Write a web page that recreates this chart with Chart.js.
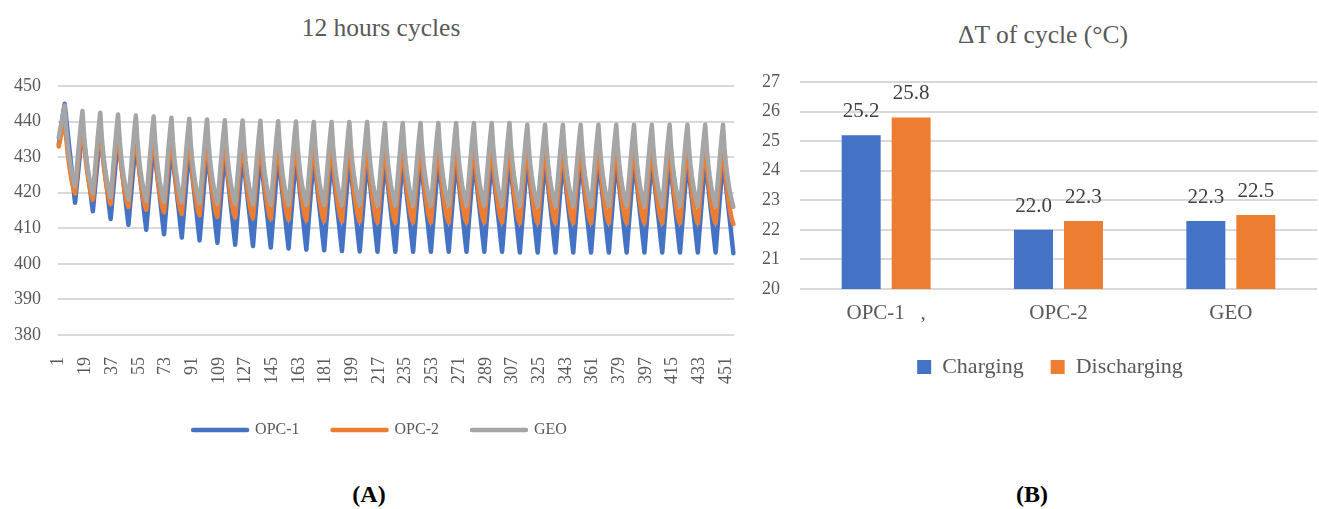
<!DOCTYPE html>
<html>
<head>
<meta charset="utf-8">
<script src="https://cdn.jsdelivr.net/npm/chart.js@4.4.1/dist/chart.umd.min.js"></script>
<style>
  html, body { margin: 0; padding: 0; background: #fff; }
  body { width: 1319px; height: 509px; position: relative; overflow: hidden; font-family: 'Liberation Serif', 'Times New Roman', serif; }
  canvas { position: absolute; top: 0; }
  #cycles { left: 0; }
  #deltaT { left: 740px; }
  .title { position: absolute; color: #595959; font-size: 25.5px; white-space: nowrap; transform: translate(-50%, -50%); }
  .panel { position: absolute; color: #000; font-size: 24px; font-weight: bold; white-space: nowrap; transform: translate(-50%, -50%); }
</style>
</head>
<body>
<div class="title" style="left:381px; top:28px;">12 hours cycles</div>
<div class="title" style="left:1043px; top:35px;">ΔT of cycle (°C)</div>
<canvas id="cycles" width="769" height="450"></canvas>
<canvas id="deltaT" width="579" height="400"></canvas>
<div class="panel" style="left:369px; top:494px;">(<span>A</span>)</div>
<div class="panel" style="left:1032px; top:494px;">(<span>B</span>)</div>
<script>
// ---- Panel A: temperature over repeated 12-hour cycles (hourly readings) ----
const hourIndex = Array.from({ length: 456 }, (_, i) => String(i + 1));
const hourTickStep = 18;
const tempTicks = { min: 380, max: 450, step: 10 };

const opc1 = [
  433.5, 436.5, 439.5, 442.5,
  445.0, 441.1, 436.9, 433.0, 429.2, 425.3, 421.1, 417.2, 421.4, 425.5, 429.7, 433.8,
  438.0, 434.8, 431.3, 428.0, 424.8, 421.5, 418.0, 414.8, 419.2, 423.6, 428.0, 432.4,
  436.8, 433.4, 429.8, 426.4, 423.0, 419.6, 416.0, 412.6, 417.2, 421.9, 426.5, 431.2,
  435.8, 432.3, 428.6, 425.1, 421.7, 418.2, 414.5, 411.0, 415.8, 420.5, 425.3, 430.0,
  434.8, 431.3, 427.5, 424.0, 420.4, 416.9, 413.1, 409.6, 414.5, 419.4, 424.2, 429.1,
  434.0, 430.4, 426.5, 422.9, 419.4, 415.8, 411.9, 408.3, 413.3, 418.3, 423.3, 428.3,
  433.3, 429.7, 425.8, 422.2, 418.5, 414.9, 411.0, 407.4, 412.5, 417.5, 422.6, 427.6,
  432.7, 429.0, 425.1, 421.5, 417.8, 414.2, 410.3, 406.6, 411.7, 416.8, 422.0, 427.1,
  432.2, 428.5, 424.6, 420.9, 417.2, 413.5, 409.6, 405.9, 411.1, 416.2, 421.4, 426.5,
  431.7, 428.0, 424.1, 420.4, 416.7, 413.0, 409.1, 405.4, 410.6, 415.8, 420.9, 426.1,
  431.3, 427.6, 423.7, 420.0, 416.3, 412.6, 408.7, 405.0, 410.2, 415.4, 420.6, 425.8,
  431.0, 427.3, 423.3, 419.6, 416.0, 412.3, 408.3, 404.6, 409.8, 415.0, 420.3, 425.5,
  430.7, 427.0, 423.0, 419.3, 415.7, 412.0, 408.0, 404.3, 409.5, 414.8, 420.0, 425.3,
  430.5, 426.8, 422.8, 419.1, 415.4, 411.7, 407.7, 404.0, 409.3, 414.5, 419.8, 425.0,
  430.3, 426.6, 422.6, 418.9, 415.2, 411.5, 407.5, 403.8, 409.1, 414.3, 419.6, 424.8,
  430.1, 426.4, 422.4, 418.7, 415.0, 411.3, 407.3, 403.6, 408.9, 414.2, 419.4, 424.7,
  430.0, 426.3, 422.3, 418.6, 414.9, 411.2, 407.2, 403.5, 408.8, 414.1, 419.3, 424.6,
  429.9, 426.2, 422.2, 418.5, 414.8, 411.1, 407.1, 403.4, 408.7, 414.0, 419.2, 424.5,
  429.8, 426.1, 422.1, 418.4, 414.8, 411.1, 407.1, 403.4, 408.7, 414.0, 419.2, 424.5,
  429.8, 426.1, 422.1, 418.4, 414.8, 411.1, 407.1, 403.4, 408.7, 414.0, 419.2, 424.5,
  429.8, 426.1, 422.1, 418.4, 414.8, 411.1, 407.1, 403.4, 408.7, 414.0, 419.2, 424.5,
  429.8, 426.1, 422.1, 418.4, 414.8, 411.1, 407.1, 403.4, 408.7, 414.0, 419.2, 424.5,
  429.8, 426.1, 422.1, 418.4, 414.8, 411.1, 407.1, 403.4, 408.7, 414.0, 419.2, 424.5,
  429.8, 426.1, 422.1, 418.4, 414.8, 411.1, 407.1, 403.4, 408.7, 414.0, 419.2, 424.5,
  429.8, 426.1, 422.1, 418.4, 414.8, 411.1, 407.1, 403.4, 408.7, 414.0, 419.2, 424.5,
  429.8, 426.1, 422.1, 418.4, 414.6, 410.9, 406.9, 403.2, 408.5, 413.8, 419.1, 424.4,
  429.7, 426.0, 422.0, 418.3, 414.6, 410.9, 406.9, 403.2, 408.5, 413.8, 419.1, 424.4,
  429.7, 426.0, 422.0, 418.3, 414.6, 410.9, 406.9, 403.2, 408.5, 413.8, 419.1, 424.4,
  429.7, 426.0, 422.0, 418.3, 414.6, 410.9, 406.9, 403.2, 408.5, 413.8, 419.1, 424.4,
  429.7, 426.0, 422.0, 418.3, 414.6, 410.9, 406.9, 403.2, 408.5, 413.8, 419.1, 424.4,
  429.7, 426.0, 422.0, 418.3, 414.6, 410.9, 406.9, 403.2, 408.5, 413.8, 419.1, 424.4,
  429.7, 426.0, 422.0, 418.3, 414.6, 410.9, 406.9, 403.2, 408.5, 413.8, 419.1, 424.4,
  429.7, 426.0, 422.0, 418.3, 414.6, 410.9, 406.9, 403.2, 408.5, 413.8, 419.1, 424.4,
  429.7, 426.0, 422.0, 418.3, 414.6, 410.9, 406.9, 403.2, 408.5, 413.8, 419.1, 424.4,
  429.7, 426.0, 422.0, 418.3, 414.6, 410.9, 406.9, 403.2, 408.5, 413.8, 419.1, 424.4,
  429.7, 426.0, 422.0, 418.3, 414.6, 410.9, 406.9, 403.2, 408.5, 413.8, 419.1, 424.4,
  429.7, 426.0, 422.0, 418.3, 414.6, 410.9, 406.9, 403.2, 408.5, 413.8, 419.1, 424.4,
  429.7, 426.0, 422.0, 418.2, 414.5, 410.7, 406.7, 403.0
];

const opc2 = [
  433.0, 435.0, 437.0, 439.0,
  441.0, 435.5, 431.2, 427.9, 425.1, 422.8, 420.9, 419.8, 423.8, 428.3, 432.3, 436.4,
  440.0, 434.3, 429.9, 426.4, 423.5, 421.1, 419.1, 418.0, 422.3, 427.0, 431.3, 435.5,
  439.4, 433.5, 429.0, 425.4, 422.5, 420.0, 417.9, 416.8, 421.2, 426.0, 430.4, 434.8,
  438.8, 432.9, 428.3, 424.7, 421.7, 419.2, 417.1, 416.0, 420.4, 425.3, 429.8, 434.2,
  438.2, 432.2, 427.6, 423.9, 421.0, 418.4, 416.4, 415.2, 419.7, 424.7, 429.2, 433.7,
  437.7, 431.7, 427.0, 423.3, 420.3, 417.7, 415.7, 414.5, 419.1, 424.1, 428.6, 433.2,
  437.3, 431.2, 426.6, 422.9, 419.8, 417.3, 415.2, 414.0, 418.6, 423.7, 428.3, 432.9,
  437.0, 430.9, 426.2, 422.5, 419.5, 416.9, 414.8, 413.6, 418.2, 423.3, 427.9, 432.5,
  436.7, 430.6, 425.9, 422.1, 419.1, 416.5, 414.4, 413.2, 417.8, 422.9, 427.6, 432.2,
  436.4, 430.3, 425.6, 421.9, 418.9, 416.3, 414.2, 413.0, 417.6, 422.7, 427.3, 431.9,
  436.1, 430.0, 425.4, 421.7, 418.6, 416.1, 414.0, 412.8, 417.4, 422.5, 427.1, 431.7,
  435.9, 429.8, 425.2, 421.5, 418.4, 415.9, 413.8, 412.6, 417.2, 422.3, 426.9, 431.5,
  435.7, 429.6, 425.0, 421.3, 418.2, 415.7, 413.6, 412.4, 417.0, 422.1, 426.7, 431.3,
  435.5, 429.4, 424.8, 421.1, 418.0, 415.5, 413.4, 412.2, 416.8, 421.9, 426.5, 431.1,
  435.3, 429.2, 424.6, 420.9, 417.8, 415.3, 413.2, 412.0, 416.6, 421.7, 426.4, 431.0,
  435.2, 429.1, 424.5, 420.8, 417.7, 415.2, 413.1, 411.9, 416.5, 421.6, 426.3, 430.9,
  435.1, 429.0, 424.4, 420.7, 417.6, 415.1, 413.0, 411.8, 416.4, 421.5, 426.2, 430.8,
  435.0, 428.9, 424.2, 420.5, 417.5, 414.9, 412.8, 411.6, 416.2, 421.3, 426.0, 430.6,
  434.8, 428.8, 424.1, 420.4, 417.4, 414.8, 412.8, 411.6, 416.2, 421.3, 426.0, 430.6,
  434.8, 428.8, 424.1, 420.4, 417.4, 414.8, 412.8, 411.6, 416.2, 421.3, 426.0, 430.6,
  434.8, 428.8, 424.1, 420.4, 417.4, 414.8, 412.8, 411.6, 416.2, 421.3, 426.0, 430.6,
  434.8, 428.8, 424.1, 420.4, 417.4, 414.8, 412.8, 411.6, 416.2, 421.3, 426.0, 430.6,
  434.8, 428.8, 424.1, 420.4, 417.4, 414.8, 412.8, 411.6, 416.2, 421.3, 426.0, 430.6,
  434.8, 428.8, 424.1, 420.4, 417.4, 414.8, 412.8, 411.6, 416.2, 421.3, 426.0, 430.6,
  434.8, 428.8, 424.1, 420.4, 417.4, 414.8, 412.8, 411.6, 416.2, 421.3, 426.0, 430.6,
  434.8, 428.7, 424.0, 420.3, 417.3, 414.7, 412.6, 411.4, 416.0, 421.1, 425.7, 430.3,
  434.5, 428.5, 423.9, 420.2, 417.2, 414.6, 412.6, 411.4, 416.0, 421.1, 425.7, 430.3,
  434.5, 428.5, 423.9, 420.2, 417.2, 414.6, 412.6, 411.4, 416.0, 421.1, 425.7, 430.3,
  434.5, 428.5, 423.9, 420.2, 417.2, 414.6, 412.6, 411.4, 416.0, 421.1, 425.7, 430.3,
  434.5, 428.5, 423.9, 420.2, 417.2, 414.6, 412.6, 411.4, 416.0, 421.1, 425.7, 430.3,
  434.5, 428.5, 423.9, 420.2, 417.2, 414.6, 412.6, 411.4, 416.0, 421.1, 425.7, 430.3,
  434.5, 428.5, 423.9, 420.2, 417.2, 414.6, 412.6, 411.4, 416.0, 421.1, 425.7, 430.3,
  434.5, 428.5, 423.9, 420.2, 417.2, 414.6, 412.6, 411.4, 416.0, 421.1, 425.7, 430.3,
  434.5, 428.5, 423.9, 420.2, 417.2, 414.6, 412.6, 411.4, 416.0, 421.1, 425.7, 430.3,
  434.5, 428.5, 423.9, 420.2, 417.2, 414.6, 412.6, 411.4, 416.0, 421.1, 425.7, 430.3,
  434.5, 428.5, 423.9, 420.2, 417.2, 414.6, 412.6, 411.4, 416.0, 421.1, 425.7, 430.3,
  434.5, 428.5, 423.9, 420.2, 417.2, 414.6, 412.6, 411.4, 416.0, 421.1, 425.7, 430.3,
  434.5, 428.4, 423.8, 420.1, 417.0, 414.5, 412.4, 411.2
];

const geo = [
  435.5, 437.8, 440.0, 442.3,
  444.5, 438.1, 433.6, 430.2, 427.5, 425.2, 423.4, 421.8, 426.0, 430.7, 435.2, 439.4,
  443.0, 436.5, 431.9, 428.4, 425.6, 423.3, 421.4, 419.8, 424.3, 429.3, 434.1, 438.6,
  442.5, 435.8, 431.1, 427.5, 424.7, 422.3, 420.4, 418.7, 423.4, 428.5, 433.4, 438.0,
  442.0, 435.3, 430.5, 426.9, 424.1, 421.7, 419.8, 418.1, 422.8, 428.0, 433.0, 437.7,
  441.7, 435.0, 430.2, 426.6, 423.7, 421.3, 419.4, 417.7, 422.4, 427.7, 432.6, 437.4,
  441.4, 434.7, 429.9, 426.3, 423.4, 421.0, 419.1, 417.4, 422.1, 427.4, 432.3, 437.1,
  441.1, 434.4, 429.6, 426.0, 423.2, 420.8, 418.9, 417.2, 421.9, 427.1, 432.1, 436.8,
  440.8, 434.1, 429.4, 425.8, 423.0, 420.6, 418.7, 417.0, 421.7, 426.9, 431.9, 436.6,
  440.6, 434.0, 429.2, 425.7, 422.8, 420.5, 418.6, 416.9, 421.6, 426.8, 431.7, 436.4,
  440.4, 433.8, 429.1, 425.5, 422.7, 420.3, 418.5, 416.8, 421.5, 426.7, 431.6, 436.3,
  440.3, 433.7, 429.0, 425.4, 422.6, 420.2, 418.4, 416.7, 421.4, 426.6, 431.5, 436.2,
  440.2, 433.6, 428.9, 425.3, 422.5, 420.1, 418.3, 416.6, 421.3, 426.5, 431.4, 436.1,
  440.1, 433.5, 428.8, 425.2, 422.4, 420.0, 418.2, 416.5, 421.2, 426.4, 431.3, 436.0,
  440.0, 433.4, 428.7, 425.2, 422.4, 420.0, 418.1, 416.5, 421.2, 426.3, 431.2, 435.9,
  439.9, 433.3, 428.7, 425.2, 422.4, 420.0, 418.1, 416.5, 421.2, 426.3, 431.2, 435.9,
  439.9, 433.3, 428.7, 425.2, 422.4, 420.0, 418.1, 416.5, 421.2, 426.3, 431.2, 435.9,
  439.9, 433.3, 428.7, 425.2, 422.4, 420.0, 418.1, 416.5, 421.2, 426.3, 431.2, 435.9,
  439.9, 433.3, 428.6, 425.1, 422.3, 419.9, 418.0, 416.4, 421.0, 426.1, 431.0, 435.7,
  439.6, 433.1, 428.5, 425.0, 422.2, 419.9, 418.0, 416.4, 421.0, 426.1, 431.0, 435.7,
  439.6, 433.1, 428.5, 425.0, 422.2, 419.9, 418.0, 416.4, 421.0, 426.1, 431.0, 435.7,
  439.6, 433.1, 428.5, 425.0, 422.2, 419.9, 418.0, 416.4, 421.0, 426.1, 431.0, 435.7,
  439.6, 433.1, 428.5, 425.0, 422.2, 419.9, 418.0, 416.4, 421.0, 426.1, 431.0, 435.7,
  439.6, 433.1, 428.5, 425.0, 422.2, 419.9, 418.0, 416.4, 421.0, 426.1, 431.0, 435.7,
  439.6, 433.1, 428.5, 425.0, 422.2, 419.9, 418.0, 416.4, 421.0, 426.1, 431.0, 435.7,
  439.6, 433.1, 428.5, 425.0, 422.2, 419.9, 418.0, 416.4, 421.0, 426.1, 431.0, 435.7,
  439.6, 433.0, 428.4, 424.9, 422.1, 419.7, 417.8, 416.2, 420.8, 425.8, 430.6, 435.2,
  439.1, 432.7, 428.1, 424.7, 421.9, 419.6, 417.8, 416.2, 420.8, 425.8, 430.6, 435.2,
  439.1, 432.7, 428.1, 424.7, 421.9, 419.6, 417.8, 416.2, 420.8, 425.8, 430.6, 435.2,
  439.1, 432.7, 428.1, 424.7, 421.9, 419.6, 417.8, 416.2, 420.8, 425.8, 430.6, 435.2,
  439.1, 432.7, 428.1, 424.7, 421.9, 419.6, 417.8, 416.2, 420.8, 425.8, 430.6, 435.2,
  439.1, 432.7, 428.1, 424.7, 421.9, 419.6, 417.8, 416.2, 420.8, 425.8, 430.6, 435.2,
  439.1, 432.7, 428.1, 424.7, 421.9, 419.6, 417.8, 416.2, 420.8, 425.8, 430.6, 435.2,
  439.1, 432.7, 428.1, 424.7, 421.9, 419.6, 417.8, 416.2, 420.8, 425.8, 430.6, 435.2,
  439.1, 432.7, 428.1, 424.7, 421.9, 419.6, 417.8, 416.2, 420.8, 425.8, 430.6, 435.2,
  439.1, 432.7, 428.1, 424.7, 421.9, 419.6, 417.8, 416.2, 420.8, 425.8, 430.6, 435.2,
  439.1, 432.7, 428.1, 424.7, 421.9, 419.6, 417.8, 416.2, 420.8, 425.8, 430.6, 435.2,
  439.1, 432.7, 428.1, 424.7, 421.9, 419.6, 417.8, 416.2, 420.8, 425.8, 430.6, 435.2,
  439.1, 432.6, 428.0, 424.5, 421.8, 419.5, 417.6, 416.0
];

// ---- Panel B: temperature swing per cycle ----
const materials = ['OPC-1   ,', 'OPC-2', 'GEO'];
const charging = [25.2, 22.0, 22.3];
const discharging = [25.8, 22.3, 22.5];
const deltaTicks = { min: 20, max: 27, step: 1 };

const BLUE = '#4472C4';
const ORANGE = '#ED7D31';
const GREY = '#A5A5A5';
const TEXT = '#595959';
const GRID = '#d9d9d9';
const FAMILY = "'Liberation Serif', 'Times New Roman', serif";

Chart.defaults.font.family = FAMILY;
Chart.defaults.color = TEXT;

// Legend entries drawn as thick rounded line segments
const lineLegendLabels = (chart) =>
  Chart.defaults.plugins.legend.labels.generateLabels(chart)
    .map(item => Object.assign(item, { lineWidth: 4.5, lineCap: 'round' }));

// Nudges the legend row sideways so it centres under the whole panel
const legendShift = {
  id: 'legendShift',
  afterLayout(chart, args, opts) {
    const lg = chart.legend;
    if (lg && opts.dx) { lg.left += opts.dx; lg.right += opts.dx; }
  }
};

new Chart(document.getElementById('cycles'), {
  type: 'line',
  data: {
    labels: hourIndex,
    datasets: [
      { label: 'OPC-1', data: opc1, borderColor: BLUE, backgroundColor: BLUE, order: 2 },
      { label: 'OPC-2', data: opc2, borderColor: ORANGE, backgroundColor: ORANGE, order: 1 },
      { label: 'GEO', data: geo, borderColor: GREY, backgroundColor: GREY, order: 0 }
    ]
  },
  options: {
    responsive: false,
    animation: false,
    layout: { padding: { top: 86, right: 12, bottom: 2, left: 0 } },
    elements: {
      line: { borderWidth: 4.5, tension: 0, fill: false, borderCapStyle: 'round', borderJoinStyle: 'round' },
      point: { radius: 0, hoverRadius: 0 }
    },
    scales: {
      x: {
        offset: true,
        grid: { display: false },
        border: { display: false },
        ticks: {
          autoSkip: false, minRotation: 90, maxRotation: 90, padding: 14,
          color: TEXT, font: { size: 18 },
          callback(value, index) { return index % hourTickStep === 0 ? this.getLabelForValue(value) : ''; }
        },
        afterFit(scale) { scale.height = 54; }
      },
      y: {
        min: tempTicks.min, max: tempTicks.max,
        ticks: { stepSize: tempTicks.step, padding: 17, color: TEXT, font: { size: 18 } },
        grid: { color: GRID, lineWidth: 2, drawTicks: false },
        border: { display: false },
        afterFit(scale) { scale.width = 58; }
      }
    },
    plugins: {
      legendShift: { dx: 1.5 },
      legend: {
        position: 'bottom',
        labels: {
          usePointStyle: true, pointStyle: 'line', pointStyleWidth: 54,
          padding: 33, color: TEXT, font: { size: 16 },
          generateLabels: lineLegendLabels,
          sort: (a, b) => a.datasetIndex - b.datasetIndex
        }
      },
      tooltip: { enabled: false }
    }
  },
  plugins: [legendShift]
});

// Value printed above every bar
const barValueLabels = {
  id: 'barValueLabels',
  afterDatasetsDraw(chart) {
    const { ctx } = chart;
    ctx.save();
    ctx.font = '21px ' + FAMILY;
    ctx.fillStyle = '#404040';
    ctx.textAlign = 'center';
    ctx.textBaseline = 'alphabetic';
    chart.data.datasets.forEach((ds, di) => {
      chart.getDatasetMeta(di).data.forEach((bar, i) => {
        ctx.fillText(ds.data[i].toFixed(1), bar.x, bar.y - 18);
      });
    });
    ctx.restore();
  }
};

new Chart(document.getElementById('deltaT'), {
  type: 'bar',
  data: {
    labels: materials,
    datasets: [
      { label: 'Charging', data: charging, backgroundColor: BLUE },
      { label: 'Discharging', data: discharging, backgroundColor: ORANGE }
    ]
  },
  options: {
    responsive: false,
    animation: false,
    layout: { padding: { top: 82, right: 2, bottom: 12, left: 0 } },
    datasets: { bar: { categoryPercentage: 0.58, barPercentage: 0.78 } },
    scales: {
      x: {
        grid: { display: false },
        border: { display: false },
        ticks: { padding: 4, color: TEXT, font: { size: 21 } },
        afterFit(scale) { scale.height = 40; }
      },
      y: {
        min: deltaTicks.min, max: deltaTicks.max,
        ticks: { stepSize: deltaTicks.step, padding: 20, color: TEXT, font: { size: 18 } },
        grid: { color: GRID, lineWidth: 2, drawTicks: false },
        border: { display: false },
        afterFit(scale) { scale.width = 60; }
      }
    },
    plugins: {
      legendShift: { dx: 21.5 },
      legend: {
        position: 'bottom',
        labels: { boxWidth: 14, boxHeight: 14, padding: 27, color: TEXT, font: { size: 22 } }
      },
      tooltip: { enabled: false }
    }
  },
  plugins: [barValueLabels, legendShift]
});
</script>
</body>
</html>
